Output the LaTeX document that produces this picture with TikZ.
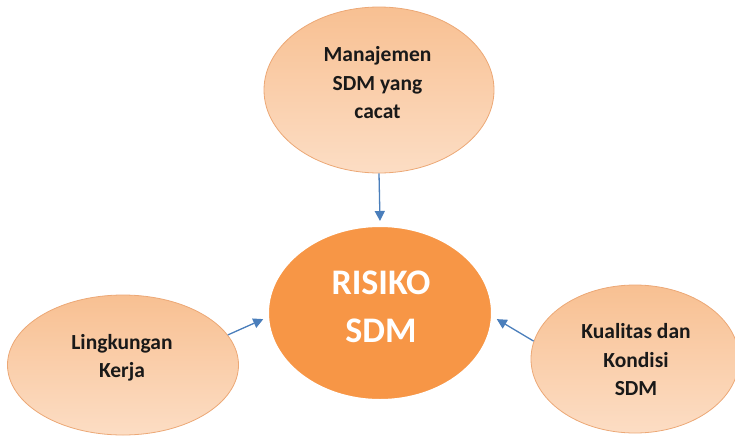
\documentclass[tikz,border=0pt]{standalone}
\usepackage{fontspec}
\setmainfont{Carlito}
\usetikzlibrary{shapes.geometric,shadows,arrows.meta}

\definecolor{peachTop}{RGB}{248,192,146}
\definecolor{peachBot}{RGB}{252,221,196}
\definecolor{peachLine}{RGB}{236,168,118}
\definecolor{riskFill}{RGB}{247,150,70}
\definecolor{linkBlue}{RGB}{74,126,187}

\tikzset{
  factor/.style={ellipse, draw=peachLine, line width=0.8pt,
    top color=peachTop, bottom color=peachBot, inner sep=0pt},
  core/.style={ellipse, fill=riskFill, draw=white, line width=6pt, inner sep=0pt,
    drop shadow={opacity=0.25, shadow xshift=1pt, shadow yshift=-2pt}},
  factortext/.style={align=center, font=\fontsize{21.5}{28.5}\selectfont\bfseries,
    text=black!90, inner sep=0pt},
  coretext/.style={align=center, font=\fontsize{36}{48}\selectfont\bfseries,
    text=white, inner sep=0pt},
  link/.style={draw=linkBlue, line width=1.3pt,
    -{Triangle[length=10pt,width=10pt]}},
}

\begin{document}
\begin{tikzpicture}[x=1pt,y=-1pt]
  \useasboundingbox (0,0) rectangle (735,439);

  % central risk ellipse
  \node[core, minimum width=228pt, minimum height=178pt] (risk) at (380,313) {};
  \node[coretext] (risktxt) at (381,307) {RISIKO\\SDM};

  % contributing factors
  \node[factor, minimum width=230pt, minimum height=166pt] (mgmt) at (379,90) {};
  \node[factortext] (mgmttxt) at (377.5,83) {Manajemen\\SDM yang\\cacat};

  \node[factor, minimum width=231pt, minimum height=140pt] (env) at (123,365) {};
  \node[factortext] (envtxt) at (122,358) {Lingkungan\\Kerja};

  \node[factor, minimum width=208pt, minimum height=148pt] (qual) at (635,359) {};
  \node[factortext] (qualtxt) at (636,360) {Kualitas dan\\Kondisi\\SDM};

  % influences pointing at the risk
  \draw[link] (mgmt.south) -- (risk.north);
  \draw[link] (env.16) -- (risk.183);
  \draw[link] (qual.170) -- (risk.-3);
\end{tikzpicture}
\end{document}
